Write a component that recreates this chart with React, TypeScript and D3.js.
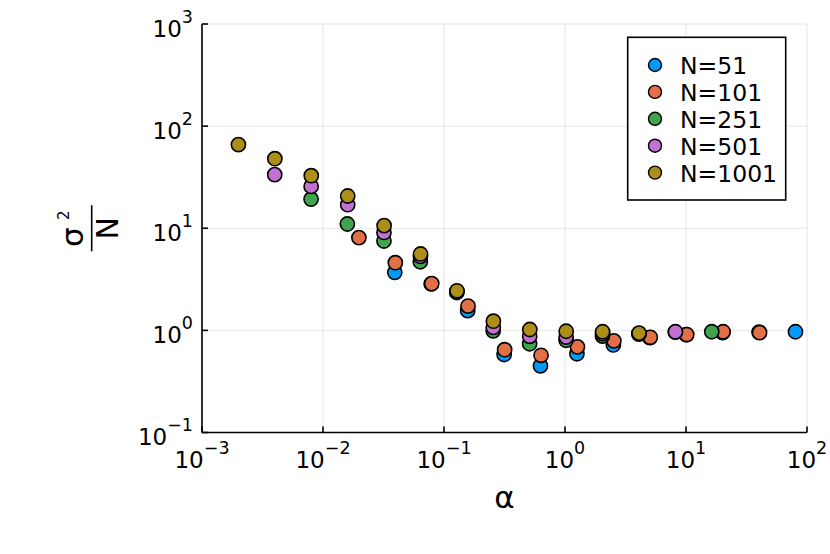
import { useEffect, useRef } from 'react';
import * as d3 from 'd3';

// values (log-log)
const seriesNames = ['N=51', 'N=101', 'N=251', 'N=501', 'N=1001'];
const seriesColors = ['#009AFA', '#E36F47', '#3EA44E', '#C271D2', '#AC8E18'];

const alphaN51 = [0.0392, 0.0784, 0.157, 0.314, 0.627, 1.255, 2.51, 5.02, 10.04, 20.08, 40.16, 80.31];
const sigmaN51 = [3.7, 2.85, 1.56, 0.58, 0.45, 0.59, 0.72, 0.85, 0.91, 0.95, 0.96, 0.97];

const alphaN101 = [0.0198, 0.0396, 0.0792, 0.158, 0.317, 0.634, 1.267, 2.535, 5.07, 10.14, 20.28, 40.55];
const sigmaN101 = [8.1, 4.6, 2.87, 1.73, 0.647, 0.57, 0.69, 0.79, 0.855, 0.91, 0.97, 0.95];

const alphaN251 = [0.00797, 0.0159, 0.0319, 0.0637, 0.1275, 0.255, 0.51, 1.02, 2.04, 4.08, 8.16, 16.32];
const sigmaN251 = [19.3, 11, 7.5, 4.7, 2.35, 0.99, 0.74, 0.8, 0.88, 0.92, 0.96, 0.97];

const alphaN501 = [0.00399, 0.00798, 0.016, 0.0319, 0.0639, 0.1277, 0.2555, 0.511, 1.022, 2.044, 4.088, 8.176];
const sigmaN501 = [33.5, 25.7, 17, 9.1, 5.3, 2.4, 1.07, 0.875, 0.86, 0.93, 0.93, 0.97];

const alphaN1001 = [0.002, 0.004, 0.008, 0.016, 0.032, 0.064, 0.128, 0.256, 0.512, 1.023, 2.046, 4.092];
const sigmaN1001 = [66, 48, 32.7, 20.7, 10.6, 5.6, 2.44, 1.23, 1.02, 0.98, 0.97, 0.94];

const xTicks = [1e-3, 1e-2, 1e-1, 1e0, 1e1, 1e2];
const yTicks = [1e-1, 1e0, 1e1, 1e2, 1e3];

const alphas = [alphaN51, alphaN101, alphaN251, alphaN501, alphaN1001];
const sigmas = [sigmaN51, sigmaN101, sigmaN251, sigmaN501, sigmaN1001];

const FONT = 'DejaVu Sans, sans-serif';

const fmtExp = (v: number) => {
  const e = Math.round(Math.log10(v));
  return e < 0 ? `\u2212${-e}` : `${e}`;
};

export default function App() {
  const svgRef = useRef<SVGSVGElement>(null);

  useEffect(() => {
    if (!svgRef.current) return;
    const svg = d3.select(svgRef.current);
    svg.selectAll('*').remove();

    const left = 202;
    const right = 807;
    const top = 24;
    const bottom = 432.5;

    const x = d3.scaleLog().domain([1e-3, 1e2]).range([left, right]);
    const y = d3.scaleLog().domain([1e-1, 1e3]).range([bottom, top]);

    svg.append('rect').attr('width', 830).attr('height', 554).attr('fill', '#fff');

    // grid
    const grid = svg.append('g').attr('stroke', '#000').attr('stroke-opacity', 0.1).attr('stroke-width', 1);
    xTicks.forEach((t) => {
      grid.append('line').attr('x1', x(t)).attr('x2', x(t)).attr('y1', top).attr('y2', bottom);
    });
    yTicks.forEach((t) => {
      grid.append('line').attr('x1', left).attr('x2', right).attr('y1', y(t)).attr('y2', y(t));
    });

    // axes
    const axes = svg.append('g').attr('stroke', '#000').attr('stroke-width', 1.6);
    axes.append('line').attr('x1', left).attr('x2', right).attr('y1', bottom).attr('y2', bottom);
    axes.append('line').attr('x1', left).attr('x2', left).attr('y1', top).attr('y2', bottom);
    xTicks.forEach((t) => {
      axes.append('line').attr('x1', x(t)).attr('x2', x(t)).attr('y1', bottom).attr('y2', bottom - 6);
    });
    yTicks.forEach((t) => {
      axes.append('line').attr('x1', left).attr('x2', left + 6).attr('y1', y(t)).attr('y2', y(t));
    });

    // tick labels
    xTicks.forEach((t) => {
      const txt = svg
        .append('text')
        .attr('x', x(t))
        .attr('y', 468)
        .attr('text-anchor', 'middle')
        .attr('font-family', FONT)
        .attr('font-size', 23)
        .attr('fill', '#000');
      txt.append('tspan').text('10');
      txt.append('tspan').attr('dy', -14).attr('font-size', 17.5).text(fmtExp(t));
    });
    yTicks.forEach((t) => {
      const txt = svg
        .append('text')
        .attr('x', 193)
        .attr('y', y(t) + 12.5)
        .attr('text-anchor', 'end')
        .attr('font-family', FONT)
        .attr('font-size', 23)
        .attr('fill', '#000');
      txt.append('tspan').text('10');
      txt.append('tspan').attr('dy', -14).attr('font-size', 17.5).text(fmtExp(t));
    });

    // axis labels
    svg
      .append('text')
      .attr('x', (left + right) / 2)
      .attr('y', 508)
      .attr('text-anchor', 'middle')
      .attr('font-family', FONT)
      .attr('font-size', 31)
      .text('\u03b1');

    const yl = svg.append('g').attr('transform', `translate(91.7,${(top + bottom) / 2}) rotate(-90)`);
    yl.append('line').attr('x1', -23).attr('x2', 23).attr('y1', 0).attr('y2', 0).attr('stroke', '#000').attr('stroke-width', 1.6);
    yl.append('text')
      .attr('x', -9)
      .attr('y', -8.7)
      .attr('text-anchor', 'middle')
      .attr('font-family', FONT)
      .attr('font-size', 31)
      .text('\u03c3');
    yl.append('text')
      .attr('x', 13)
      .attr('y', -23.2)
      .attr('text-anchor', 'middle')
      .attr('font-family', FONT)
      .attr('font-size', 15)
      .text('2');
    yl.append('text')
      .attr('x', 0)
      .attr('y', 26.6)
      .attr('text-anchor', 'middle')
      .attr('font-family', FONT)
      .attr('font-size', 30)
      .text('N');

    // markers
    seriesNames.forEach((name, i) => {
      const pts = alphas[i].map((a, j) => [a, sigmas[i][j]] as [number, number]);
      svg
        .append('g')
        .attr('class', name)
        .selectAll('circle')
        .data(pts)
        .enter()
        .append('circle')
        .attr('cx', (d) => x(d[0]))
        .attr('cy', (d) => y(d[1]))
        .attr('r', 7.1)
        .attr('fill', seriesColors[i])
        .attr('stroke', '#000')
        .attr('stroke-width', 1.6);
    });

    // legend
    const lg = svg.append('g');
    lg.append('rect')
      .attr('x', 627.7)
      .attr('y', 37.3)
      .attr('width', 158)
      .attr('height', 162.7)
      .attr('fill', '#fff')
      .attr('stroke', '#000')
      .attr('stroke-width', 1.6);
    seriesNames.forEach((name, i) => {
      const cy = 65 + i * 26.9;
      lg.append('circle')
        .attr('cx', 655)
        .attr('cy', cy)
        .attr('r', 6.5)
        .attr('fill', seriesColors[i])
        .attr('stroke', '#000')
        .attr('stroke-width', 1.4);
      lg.append('text')
        .attr('x', 680)
        .attr('y', cy + 9)
        .attr('font-family', FONT)
        .attr('font-size', 23.5)
        .text(name);
    });
  }, []);

  return (
    <svg
      ref={svgRef}
      width={830}
      height={554}
      style={{ position: 'absolute', left: 0, top: 0 }}
    />
  );
}
